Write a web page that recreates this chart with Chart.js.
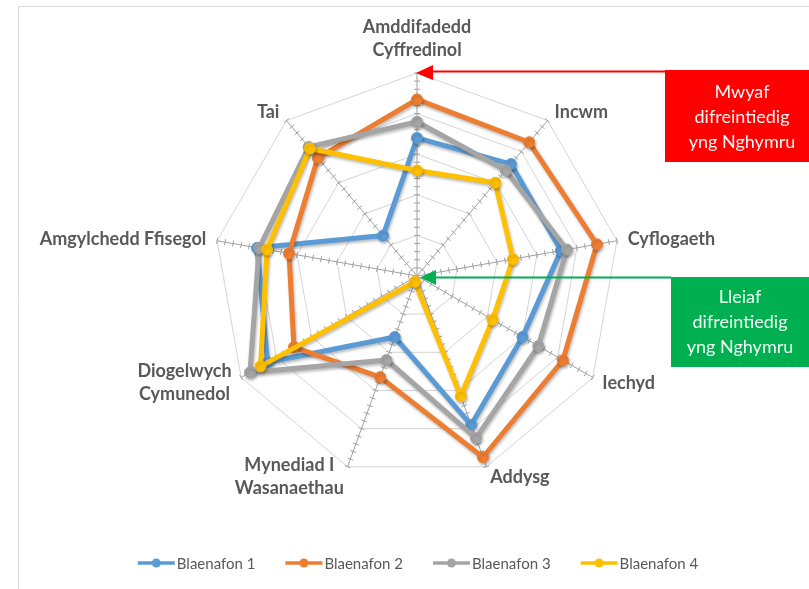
<!DOCTYPE html>
<html><head><meta charset="utf-8">
<script src="https://cdn.jsdelivr.net/npm/chart.js@4"></script>
<style>html,body{margin:0;padding:0;background:#fff;} canvas{display:block}</style>
</head><body>
<canvas id="c" width="809" height="589"></canvas>
<script>
const categories = [['Amddifadedd','Cyffredinol'],'Incwm','Cyflogaeth','Iechyd','Addysg',['Mynediad I','Wasanaethau'],['Diogelwych','Cymunedol'],'Amgylchedd Ffisegol','Tai'];
const seriesNames = ['Blaenafon 1','Blaenafon 2','Blaenafon 3','Blaenafon 4'];
const blaenafon1 = [68, 72, 72, 60, 78, 32, 85, 80, 26];
const blaenafon2 = [87, 86, 90, 83, 95, 53, 70, 64, 76];
const blaenafon3 = [76, 68, 75, 69, 85, 44, 95, 79, 83];
const blaenafon4 = [52, 60, 48, 43, 63, 3, 89, 75, 82];
const seriesColors = ['#5b9bd5','#ed7d31','#a5a5a5','#ffc000'];
const annotationMost = ['Mwyaf','difreintiedig','yng Nghymru'];
const annotationLeast = ['Lleiaf','difreintiedig','yng Nghymru'];

const seriesValues = [blaenafon1, blaenafon2, blaenafon3, blaenafon4];

const deco = {
  id: 'deco',
  beforeDatasetsDraw(chart) {
    const s = chart.scales.r, ctx = chart.ctx;
    ctx.save();
    ctx.strokeStyle = '#a0a0a0'; ctx.lineWidth = 1;
    const n = chart.data.labels.length;
    for (let i = 0; i < n; i++) {
      const a = s.getIndexAngle(i) - Math.PI / 2;
      const px = -Math.sin(a), py = Math.cos(a);
      for (let v = 4; v <= 100; v += 4) {
        const p = s.getPointPositionForValue(i, v);
        ctx.beginPath();
        ctx.moveTo(p.x + px * 3, p.y + py * 3);
        ctx.lineTo(p.x - px * 3, p.y - py * 3);
        ctx.stroke();
      }
    }
    ctx.restore();
  },
  beforeDatasetDraw(chart) {
    const ctx = chart.ctx;
    ctx.save();
    ctx.shadowColor = 'rgba(0,0,0,0.28)';
    ctx.shadowBlur = 3;
    ctx.shadowOffsetX = 1;
    ctx.shadowOffsetY = 2;
  },
  afterDatasetDraw(chart) {
    chart.ctx.restore();
  },
  afterDraw(chart) {
    const s = chart.scales.r, ctx = chart.ctx;
    ctx.save();
    // frame lines
    ctx.strokeStyle = '#d9d9d9'; ctx.lineWidth = 1;
    ctx.beginPath(); ctx.moveTo(18, 6.5); ctx.lineTo(809, 6.5); ctx.stroke();
    ctx.beginPath(); ctx.moveTo(18.5, 6); ctx.lineTo(18.5, 589); ctx.stroke();

    // point labels
    const R = s.drawingArea;
    ctx.fillStyle = '#595959';
    ctx.font = 'bold 18px Lato';
    ctx.textAlign = 'center'; ctx.textBaseline = 'middle';
    chart.data.labels.forEach((lab, i) => {
      const lines = Array.isArray(lab) ? lab : [lab];
      const ang = s.getIndexAngle(i);
      const p = s.getPointPosition(i, R + 11);
      const sn = Math.sin(ang), cs = Math.cos(ang);
      const lh = 23;
      const w = Math.max(...lines.map(l => ctx.measureText(l).width));
      let cx;
      if (Math.abs(sn) < 0.05) cx = p.x; else if (sn > 0) cx = p.x + w / 2; else cx = p.x - w / 2;
      const h = lines.length * lh;
      let top;
      if (cs > 0.95) top = p.y - h; else if (cs < -0.95) top = p.y; else top = p.y - h / 2;
      lines.forEach((l, k) => ctx.fillText(l, cx, top + lh * (k + 0.5)));
    });

    // legend
    ctx.font = '15px Lato';
    ctx.textAlign = 'left';
    const ly = 563;
    const items = chart.data.datasets.map(d => ({label: d.label, color: d.borderColor, w: ctx.measureText(d.label).width}));
    const markW = 37, gap = 30;
    const total = items.reduce((t, it) => t + markW + 2 + it.w, 0) + gap * (items.length - 1);
    let x = 418 - total / 2;
    items.forEach(it => {
      ctx.strokeStyle = it.color; ctx.fillStyle = it.color; ctx.lineWidth = 3.5;
      ctx.beginPath(); ctx.moveTo(x, ly); ctx.lineTo(x + markW, ly); ctx.stroke();
      ctx.beginPath(); ctx.arc(x + markW / 2, ly, 4.5, 0, Math.PI * 2); ctx.fill();
      ctx.fillStyle = '#595959';
      ctx.fillText(it.label, x + markW + 2, ly + 1);
      x += markW + 2 + it.w + gap;
    });

    // annotation boxes and arrows
    const topV = s.getPointPositionForValue(0, 100);
    const red = '#ff0000', green = '#00b050';
    ctx.fillStyle = red;
    ctx.fillRect(665, 70, 809 - 665, 92);
    ctx.strokeStyle = red; ctx.lineWidth = 2;
    ctx.beginPath(); ctx.moveTo(665, 71.5); ctx.lineTo(topV.x + 14, 71.5); ctx.stroke();
    ctx.beginPath(); ctx.moveTo(topV.x - 1, 73); ctx.lineTo(topV.x + 16, 65); ctx.lineTo(topV.x + 16, 80); ctx.closePath(); ctx.fill();

    ctx.fillStyle = green; ctx.strokeStyle = green;
    ctx.fillRect(671, 277, 809 - 671, 90);
    const cx0 = s.xCenter + 3;
    ctx.beginPath(); ctx.moveTo(671, 277.5); ctx.lineTo(cx0 + 14, 277.5); ctx.stroke();
    ctx.beginPath(); ctx.moveTo(cx0, 277.5); ctx.lineTo(cx0 + 16, 270); ctx.lineTo(cx0 + 16, 285); ctx.closePath(); ctx.fill();

    ctx.fillStyle = '#fff4f4';
    ctx.font = '18px Lato';
    ctx.textAlign = 'center'; ctx.textBaseline = 'middle';
    annotationMost.forEach((t, k) => ctx.fillText(t, 742, 92 + k * 25));
    ctx.fillStyle = '#f0fff4';
    annotationLeast.forEach((t, k) => ctx.fillText(t, 740, 297 + k * 25));
    ctx.restore();
  }
};

const datasets = seriesNames.map((name, i) => ({
  label: name,
  data: seriesValues[i],
  borderColor: seriesColors[i],
  backgroundColor: seriesColors[i],
  pointBackgroundColor: seriesColors[i],
  pointBorderColor: seriesColors[i],
  borderWidth: 5,
  pointRadius: 5.5,
  pointBorderWidth: 1,
  borderJoinStyle: 'round',
  fill: false,
  clip: false,
  order: 4 - i
}));

new Chart(document.getElementById('c'), {
  type: 'radar',
  data: { labels: categories, datasets },
  options: {
    responsive: false,
    animation: false,
    devicePixelRatio: 1,
    layout: { padding: { left: 214, right: 189, top: 73, bottom: 110 } },
    plugins: { legend: { display: false }, tooltip: { enabled: false } },
    elements: { line: { tension: 0 } },
    scales: {
      r: {
        min: 0, max: 100,
        ticks: { display: false, stepSize: 20 },
        pointLabels: { display: false },
        grid: { color: '#d4d4d4', lineWidth: 1 },
        angleLines: { color: '#a0a0a0', lineWidth: 1 }
      }
    }
  },
  plugins: [deco]
});
</script>
</body></html>
